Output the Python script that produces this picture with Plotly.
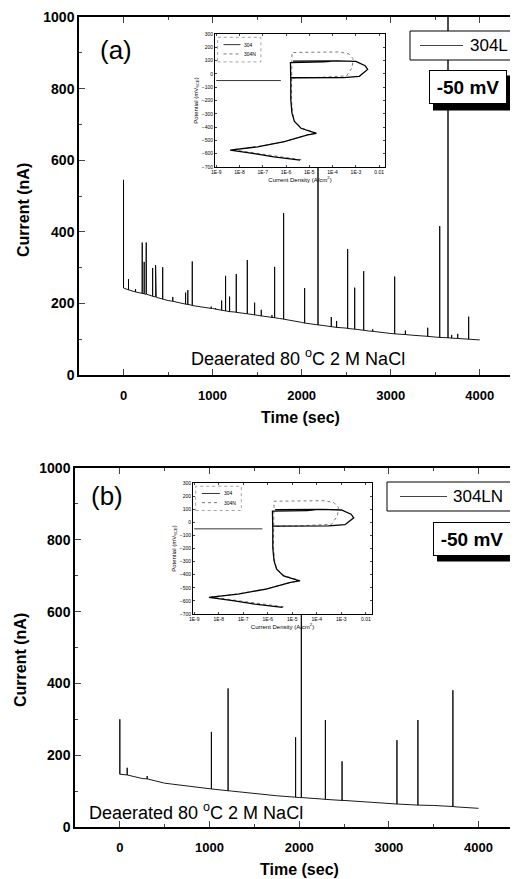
import plotly.graph_objects as go

# ---- panel (a): 304L, current vs time at -50 mV ----
base_t_a = [0, 250, 500, 750, 1000, 1250, 1500, 1750, 2000, 2250, 2500, 2750, 3000, 3250, 3500, 3750, 4000]
base_i_a = [243, 225, 208, 196, 186, 176, 167, 158, 147, 138, 131, 123, 116, 111, 106, 102, 98]
spike_t_a = [0, 56, 135, 210, 232, 255, 327, 360, 368, 440, 553, 697, 722, 772, 985, 1034, 1102, 1146,
             1191, 1266, 1390, 1472, 1547, 1667, 1697, 1798, 2034, 2184, 2333, 2393, 2517, 2596, 2697,
             2798, 3045, 3165, 3416, 3551, 3644, 3685, 3753, 3876]
spike_base_a = [243, 238, 232, 228, 227, 226, 220, 218, 217, 212, 206, 198, 197, 194, 186, 184, 181, 179,
                177, 175, 171, 168, 165, 161, 160, 156, 145, 140, 135, 133, 130, 128, 125,
                122, 115, 113, 108, 105, 104, 103, 102, 100]
spike_peak_a = [545, 268, 240, 370, 316, 370, 299, 307, 279, 301, 218, 230, 237, 317, 191, 187, 208, 277,
                219, 282, 321, 202, 182, 167, 302, 452, 243, 700, 162, 151, 352, 244, 290,
                128, 275, 124, 132, 416, 1100, 112, 115, 163]

# ---- panel (b): 304LN ----
base_t_b = [0, 250, 500, 750, 1000, 1250, 1500, 1750, 2000, 2250, 2500, 2750, 3000, 3250, 3500, 3750, 4000]
base_i_b = [147, 135, 122, 114, 107, 100, 93, 87, 82, 78, 74, 69, 65, 62, 60, 56, 52]
spike_t_b = [0, 82, 305, 1021, 1207, 1960, 2024, 2292, 2478, 3090, 3324, 3714]
spike_base_b = [147, 145, 134, 106, 101, 83, 82, 77, 74, 64, 61, 57]
spike_peak_b = [300, 165, 142, 265, 386, 250, 650, 298, 183, 242, 298, 381]

time_ticks = [0, 1000, 2000, 3000, 4000]
current_ticks = [0, 200, 400, 600, 800, 1000]

# ---- inset: cyclic polarization curves ----
cd_304 = [4e-6, 3e-7, 4.4e-8, 4e-9, 6e-8, 8.5e-7, 8.5e-6, 2e-5, 4.4e-6, 2.3e-6, 1.8e-6, 1.6e-6, 1.6e-6,
          1.55e-6, 4e-5, 2e-6, 8e-5, 2e-6, 1.6e-4, 1e-3, 2.5e-3, 3.2e-3, 1.4e-3, 3e-4, 1.6e-6]
pot_304 = [-649, -624, -599, -573, -548, -510, -459, -447, -409, -358, -295, -194, -54,
           85, 90, 91, 95, 96, 98, 94, 62, 34, -18, -28, -29]
cd_304n = [4.5e-6, 3.5e-7, 5e-8, 5e-9, 7e-8, 9e-7, 9e-6, 2.1e-5, 4.6e-6, 2.3e-6, 1.9e-6, 1.7e-6, 1.7e-6,
           1.75e-6, 1.8e-6, 2e-4, 5e-4, 7.5e-4, 7e-4, 4e-4, 2e-5, 1.8e-6]
pot_304n = [-645, -620, -596, -570, -545, -508, -457, -445, -407, -356, -293, -190, -50,
            80, 161, 165, 150, 115, 50, -15, -27, -30]
hold_cd = [1e-9, 6e-7]
hold_pot = [-50, -50]
cd_ticks = [1e-9, 1e-8, 1e-7, 1e-6, 1e-5, 1e-4, 1e-3, 1e-2]
cd_ticktext = ["1E-9", "1E-8", "1E-7", "1E-6", "1E-5", "1E-4", "1E-3", "0.01"]
pot_ticks = [300, 200, 100, 0, -100, -200, -300, -400, -500, -600, -700]

# the page body adds an 8 px margin, so the figure is drawn 8 px smaller and layout
# positions below are given in window pixels
OFF = 8
W, H = 518 - OFF, 879 - OFF


def px(x):
    return (x - OFF) / W


def py(y):
    return 1 - (y - OFF) / H


def series(bt, bi, st, sb, sp):
    ev = [(t, 0, v) for t, v in zip(bt, bi)]
    for t, b, p in zip(st, sb, sp):
        ev += [(t, 1, b), (t, 2, p), (t, 3, b)]
    ev.sort(key=lambda e: (e[0], e[1]))
    return [e[0] for e in ev], [e[2] for e in ev]


ta, ia = series(base_t_a, base_i_a, spike_t_a, spike_base_a, spike_peak_a)
tb, ib = series(base_t_b, base_i_b, spike_t_b, spike_base_b, spike_peak_b)

fig = go.Figure()
fig.add_trace(go.Scatter(x=ta, y=ia, mode='lines', name='304L', line=dict(color='black', width=0.9),
                         xaxis='x', yaxis='y', showlegend=False))
fig.add_trace(go.Scatter(x=tb, y=ib, mode='lines', name='304LN', line=dict(color='black', width=0.9),
                         xaxis='x2', yaxis='y2', showlegend=False))

for xa, ya in [('x3', 'y3'), ('x4', 'y4')]:
    fig.add_trace(go.Scatter(x=hold_cd, y=hold_pot, mode='lines', line=dict(color='black', width=0.8),
                             xaxis=xa, yaxis=ya, showlegend=False))
    fig.add_trace(go.Scatter(x=cd_304n, y=pot_304n, mode='lines', name='304N',
                             line=dict(color='#555', width=0.8, dash='dot'),
                             xaxis=xa, yaxis=ya, showlegend=False))
    fig.add_trace(go.Scatter(x=cd_304, y=pot_304, mode='lines', name='304',
                             line=dict(color='black', width=1.3),
                             xaxis=xa, yaxis=ya, showlegend=False))

font = dict(family='Liberation Sans, Arial, sans-serif', color='black')


def main_x(domain, rng):
    return dict(domain=domain, range=rng, tickvals=time_ticks, ticks='inside', ticklen=6, tickwidth=1.2,
                minor=dict(dtick=500, tick0=0, ticks='inside', ticklen=3, tickwidth=1),
                showline=True, linewidth=1.5, linecolor='black', mirror='allticks',
                showgrid=False, zeroline=False, ticklabelstandoff=8, automargin=False,
                tickfont=dict(size=13, weight='bold'))


def main_y(domain, anchor):
    return dict(domain=domain, anchor=anchor, range=[0, 1000], tickvals=current_ticks, ticks='inside',
                ticklen=6, tickwidth=1.2,
                minor=dict(dtick=100, tick0=0, ticks='inside', ticklen=3, tickwidth=1),
                showline=True, linewidth=1.5, linecolor='black', mirror=False, automargin=False,
                showgrid=False, zeroline=False, tickfont=dict(size=14, weight='bold'))


def inset_x(domain, anchor, title):
    return dict(domain=domain, anchor=anchor, type='log', range=[-9.05, -1.75], tickvals=cd_ticks,
                ticktext=cd_ticktext, ticks='inside', ticklen=2, tickwidth=0.6,
                showline=True, linewidth=0.8, linecolor='black', mirror='ticks',
                showgrid=False, zeroline=False, tickfont=dict(size=5),
                title=dict(text=title, font=dict(size=6), standoff=3), automargin=False)


def inset_y(domain, anchor, title):
    return dict(domain=domain, anchor=anchor, range=[-700, 300], tickvals=pot_ticks, ticks='inside',
                ticklen=2, tickwidth=0.6, showline=True, linewidth=0.8, linecolor='black', mirror='ticks',
                showgrid=False, zeroline=False, tickfont=dict(size=5),
                title=dict(text=title, font=dict(size=6), standoff=2), automargin=False)


cd_title = 'Current Density (A/cm<sup>2</sup>)'
pot_title = 'Potential (mV<sub>SCE</sub>)'

fig.update_layout(
    width=W, height=H, margin=dict(l=0, r=0, t=0, b=0, autoexpand=False),
    paper_bgcolor='white', plot_bgcolor='white', font=font, showlegend=False,
    xaxis=dict(main_x([px(79), 1], [-500, 4430]), anchor='y'),
    yaxis=main_y([py(375), py(17)], 'x'),
    xaxis2=dict(main_x([px(75), 1], [-500, 4440]), anchor='y2'),
    yaxis2=main_y([py(827), py(468)], 'x2'),
    xaxis3=inset_x([px(215), px(385)], 'y3', cd_title),
    yaxis3=inset_y([py(167), py(34)], 'x3', pot_title),
    xaxis4=inset_x([px(193), px(372)], 'y4', cd_title),
    yaxis4=inset_y([py(614), py(483)], 'x4', pot_title),
)

ann = []
shapes = []


def note(text, x, y, size, **kw):
    d = dict(text=text, x=px(x), y=py(y), xref='paper', yref='paper', showarrow=False,
             xanchor='center', yanchor='middle', font=dict(size=size))
    d.update(kw)
    ann.append(d)


# panel labels, axis titles, solution text
note('(a)', 116, 50, 26)
note('(b)', 107, 496, 26)
for x, y in [(24, 210), (20, 660)]:
    note('<b>Current (nA)</b>', x, y, 16, textangle=-90)
for x, y in [(300, 417), (299, 869)]:
    note('<b>Time (sec)</b>', x, y, 16)
note('Deaerated 80 <sup>o</sup>C 2 M NaCl', 298, 358, 18)
note('Deaerated 80 <sup>o</sup>C 2 M NaCl', 87, 811, 18, xanchor='left')

# legend boxes
for name, bx0, bx1, by0, by1, lx0, lx1, tx in [('304L', 410, 540, 31, 60, 420, 463, 468),
                                               ('304LN', 387, 513, 482, 511, 400, 447, 451)]:
    shapes.append(dict(type='rect', xref='paper', yref='paper', x0=px(bx0), x1=px(bx1), y0=py(by1),
                       y1=py(by0), line=dict(color='black', width=1), fillcolor='white', layer='above'))
    ym = (by0 + by1) / 2
    shapes.append(dict(type='line', xref='paper', yref='paper', x0=px(lx0), x1=px(lx1), y0=py(ym),
                       y1=py(ym), line=dict(color='#444', width=1), layer='above'))
    note(name, tx, ym, 17, xanchor='left')

# -50 mV boxes with drop shadow
for cx, cy in [(468, 87.5), (472, 538.5)]:
    shapes.append(dict(type='rect', xref='paper', yref='paper', x0=px(cx - 35), x1=px(cx + 45),
                       y0=py(cy + 23), y1=py(cy - 12), line=dict(width=0), fillcolor='black',
                       layer='above'))
    note('<b>-50 mV</b>', cx, cy, 19, width=76, height=32, bgcolor='white',
         bordercolor='black', borderwidth=1, borderpad=0)

# inset legends
for xr, yr in [('x3 domain', 'y3 domain'), ('x4 domain', 'y4 domain')]:
    shapes.append(dict(type='rect', xref=xr, yref=yr, x0=0.015, x1=0.27, y0=0.79, y1=0.975,
                       line=dict(color='#666', width=0.6, dash='dot'), fillcolor='white'))
    shapes.append(dict(type='line', xref=xr, yref=yr, x0=0.05, x1=0.15, y0=0.92, y1=0.92,
                       line=dict(color='black', width=0.8)))
    shapes.append(dict(type='line', xref=xr, yref=yr, x0=0.05, x1=0.15, y0=0.85, y1=0.85,
                       line=dict(color='#555', width=0.8, dash='dot')))
    for lab, yy in [('304', 0.92), ('304N', 0.85)]:
        ann.append(dict(text=lab, x=0.16, y=yy, xref=xr, yref=yr, xanchor='left', yanchor='middle',
                        showarrow=False, font=dict(size=5)))

fig.update_layout(annotations=ann, shapes=shapes)
fig.write_html("out.html")
